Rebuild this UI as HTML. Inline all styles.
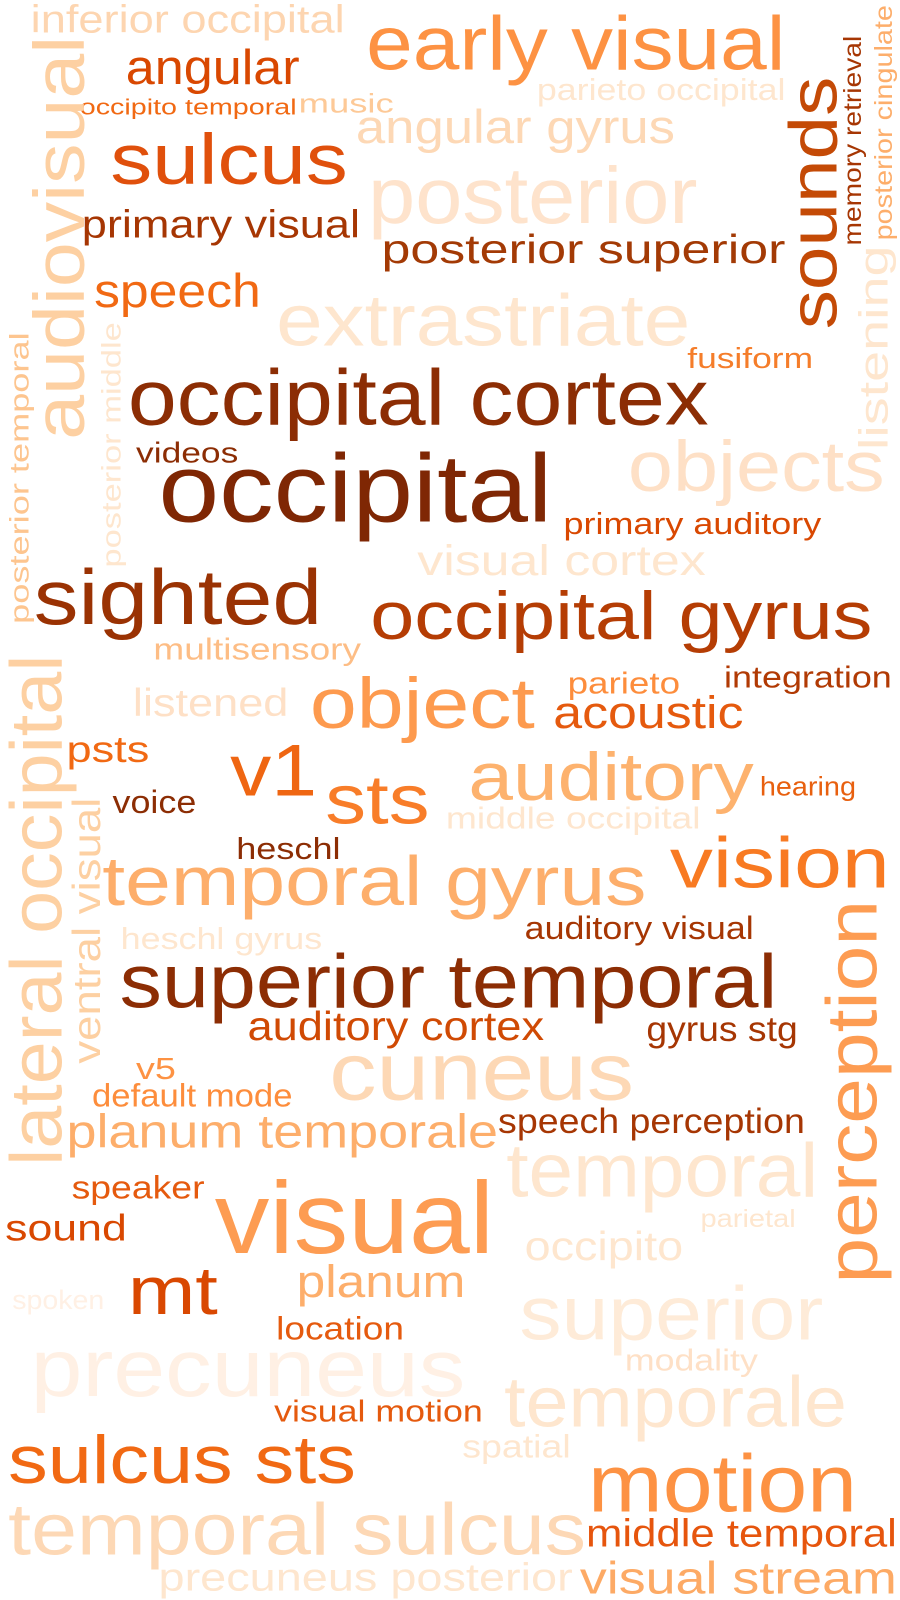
<!DOCTYPE html>
<html><head><meta charset="utf-8"><style>
html,body{margin:0;padding:0;background:#fff;}
svg{display:block;}
text{font-family:"Liberation Sans",Arial,sans-serif;}
</style></head><body>
<svg width="900" height="1600" viewBox="0 0 900 1600" xmlns="http://www.w3.org/2000/svg">
<g id="cloud" transform="scale(1.0227)"></g>
</svg>
<script>
// word, x-start, x-end (or y-start/y-end for vertical), baseline, font-size, color, vertical
const words = ["inferior occipital","early visual","angular","parieto occipital","occipito temporal","music","angular gyrus","sulcus","posterior","primary visual","posterior superior","sounds","memory retrieval","posterior cingulate","audiovisual","speech","extrastriate","fusiform","listening","posterior temporal","posterior middle","occipital cortex","objects","videos","occipital","primary auditory","visual cortex","sighted","occipital gyrus","multisensory","lateral occipital","listened","object","parieto","integration","acoustic","psts","v1","sts","auditory","hearing","voice","middle occipital","ventral visual","heschl","vision","temporal gyrus","heschl gyrus","auditory visual","perception","superior temporal","auditory cortex","gyrus stg","cuneus","v5","default mode","planum temporale","speech perception","temporal","speaker","visual","sound","parietal","occipito","mt","planum","spoken","superior","location","precuneus","modality","temporale","visual motion","spatial","sulcus sts","motion","temporal sulcus","middle temporal","precuneus posterior","visual stream"];
const starts = [30,358,123,525,78,292,348,108,360,80,373,322,240,235,430,92,270,672,440,610,555,125,614,133,155,551,408,33,362,150,1140,130,303,555,708,541,65,225,318,458,743,110,436,1040,231,655,100,118,513,1255,117,242,632,322,133,90,65,487,495,70,210,5,685,513,125,290,12,508,270,30,611,493,268,452,8,575,8,573,155,567];
const ends = [337,768,293,768,290,385,660,340,682,352,768,75,35,5,35,255,675,795,240,325,315,693,865,233,540,803,690,315,853,353,640,282,523,665,872,727,146,310,420,737,837,192,685,780,333,870,632,315,737,880,760,532,780,620,172,286,487,787,800,200,483,124,778,668,213,455,102,805,395,455,741,828,472,558,348,838,573,877,560,877];
const baselines = [32,68,82,98,112,110,140,180,218,232,257,818,842,872,82,300,338,360,868,28,118,415,480,452,510,522,562,610,625,645,60,700,712,678,672,712,745,778,805,782,778,795,810,98,840,868,885,928,918,857,985,1017,1018,1075,1055,1082,1122,1108,1170,1172,1225,1213,1200,1232,1285,1268,1280,1310,1310,1365,1340,1395,1390,1425,1450,1478,1520,1512,1555,1558];
const sizes = [38,74,48,30,22,26,46,70,78,38,40,66,24,24,70,46,72,28,40,26,26,77,70,28,94,30,42,76,66,30,72,38,70,30,30,44,36,72,68,66,26,32,30,38,30,70,68,30,32,70,74,40,34,80,30,32,46,34,74,32,100,36,24,40,66,44,26,74,32,80,30,70,30,32,66,80,72,38,38,44];
const colors = ["#fdd5b0","#fd9243","#d94801","#fee6ce","#f16913","#fdc997","#fdd8b5","#e0500c","#fee3cc","#a63603","#a33a05","#c44a06","#a63603","#fdae6b","#fdd0a2","#f16913","#fee6ce","#f57d2a","#fee6ce","#fdc58f","#fee6ce","#8c2d04","#fee0c6","#8c2d04","#7f2704","#d94801","#fee6ce","#9a3203","#b53d04","#fdbd85","#fdd0a2","#fee0c6","#fd9a4e","#fd8d3c","#b13a04","#e55a0e","#f16913","#ef6612","#f87d29","#fdb26e","#e8600f","#8c2d04","#fee6ce","#fdd0a2","#8c2d04","#f87a22","#fdae6b","#fee6ce","#a63603","#fd9c52","#8c2d04","#d04a04","#a63603","#fdd8b5","#fd9243","#fd8d3c","#fdae6b","#a63603","#fee6ce","#e55a0e","#fd9c52","#d94801","#fee6ce","#fee6ce","#d94801","#fdae6b","#fff0e4","#feebd8","#e55a0e","#fff0e4","#fee0c6","#fee6ce","#e55a0e","#fee6ce","#f16913","#fd9243","#fdd8b5","#e6550d","#fee6ce","#fdaa65"];
const vertical = ["sounds","memory retrieval","posterior cingulate","audiovisual","listening","posterior temporal","posterior middle","lateral occipital","ventral visual","perception"];

const g = document.getElementById('cloud');
const NS = "http://www.w3.org/2000/svg";
words.forEach((w, i) => {
  const t = document.createElementNS(NS, 'text');
  t.textContent = w;
  t.setAttribute('font-size', sizes[i]);
  t.setAttribute('fill', colors[i]);
  const len = Math.abs(ends[i] - starts[i]);
  t.setAttribute('textLength', len);
  t.setAttribute('lengthAdjust', 'spacingAndGlyphs');
  if (vertical.includes(w)) {
    t.setAttribute('x', 0);
    t.setAttribute('y', 0);
    t.setAttribute('transform', 'translate(' + baselines[i] + ',' + starts[i] + ') rotate(-90)');
  } else {
    t.setAttribute('x', starts[i]);
    t.setAttribute('y', baselines[i]);
  }
  
  
  g.appendChild(t);
});
</script>
</body></html>
